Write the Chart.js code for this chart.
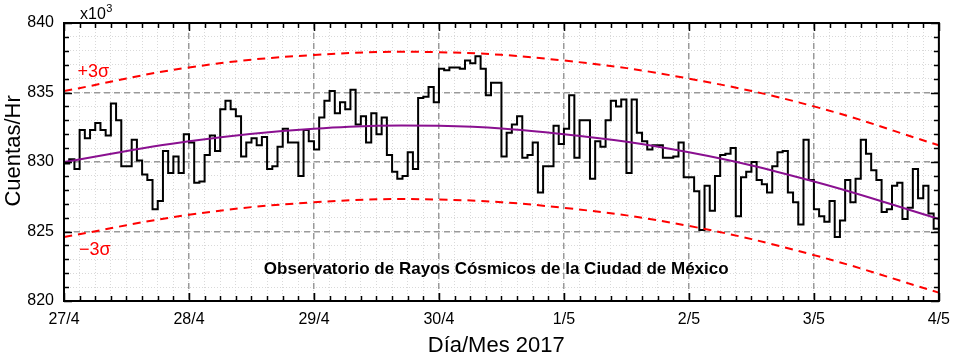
<!DOCTYPE html>
<html><head><meta charset="utf-8">
<script src="https://cdn.jsdelivr.net/npm/chart.js@4/dist/chart.umd.min.js"></script>
<style>html,body{margin:0;padding:0;background:#fff}#wrap{width:959px;height:359px}</style>
</head><body><div id="wrap"><canvas id="c" width="959" height="359"></canvas></div>
<script>
// Tick labels (one per day, every 24 hours)
const dayLabels = ["27/4","28/4","29/4","30/4","1/5","2/5","3/5","4/5"];
// Hourly counts (x10^3 counts/hr), 27/4 00h .. 3/5 23h
const day1 = [829.9,830.2,829.5,832.3,831.7,832.3,832.8,832.3,831.9,834.2,833.0,829.7,829.7,831.6,830.1,829.1,828.7,826.6,827.2,830.8,829.2,830.4,829.2,832.0];
const day2 = [831.4,828.5,828.6,830.5,831.9,830.8,833.8,834.4,833.8,833.3,830.4,831.4,831.7,831.2,831.8,829.5,829.7,831.1,832.4,831.4,831.4,829.0,832.3,831.5];
const day3 = [830.9,833.2,834.4,835.1,833.5,834.3,833.8,835.2,832.7,833.3,831.4,833.5,832.0,833.2,830.5,829.3,828.8,829.0,830.7,829.5,834.6,834.7,835.4,834.3];
const day4 = [836.7,836.6,836.8,836.8,836.7,837.3,837.1,837.6,836.7,834.8,835.7,835.7,830.4,832.1,832.7,833.3,830.3,830.5,831.4,827.8,829.7,829.7,832.6,831.3];
const day5 = [832.4,834.8,830.3,833.0,833.0,828.8,831.5,831.1,833.0,834.4,834.0,834.5,829.2,834.5,832.1,831.5,830.9,831.2,831.2,830.3,830.3,830.4,831.4,828.9];
const day6 = [828.9,827.9,825.1,828.3,826.5,829.0,830.5,830.6,831.0,826.1,828.9,829.3,830.0,828.7,828.4,827.8,829.7,830.7,830.8,827.8,827.1,825.5,831.6,828.7];
const day7 = [826.6,826.1,825.7,827.2,824.6,825.8,828.7,827.1,828.8,831.6,830.6,829.4,828.7,826.4,826.6,828.3,828.5,825.9,826.7,829.5,827.4,828.3,826.3,825.2];
const hourlyCounts = [].concat(day1, day2, day3, day4, day5, day6, day7);
// Fitted curve and +/-3 sigma bands, read at each day boundary
const fitCurve    = [830.0,831.5,832.4,832.6,832.0,830.7,828.6,825.9];
const upper3Sigma = [835.1,836.8,837.7,837.9,837.3,836.0,834.0,831.2];
const lower3Sigma = [824.6,826.2,827.1,827.3,826.7,825.4,823.3,820.6];

const HOURS_PER_DAY = 24;
const totalHours = hourlyCounts.length;
const stepPoints = hourlyCounts.map((v, i) => ({x: i, y: v}));
stepPoints.push({x: totalHours, y: hourlyCounts[totalHours - 1]});
const daily = arr => arr.map((v, i) => ({x: i * HOURS_PER_DAY, y: v}));

const FONT = '"Liberation Sans", Arial, sans-serif';

const framePlugin = {
  id: 'frame',
  afterDatasetsDraw(chart) {
    const {ctx, chartArea: a, scales} = chart;
    const xs = scales.x, ys = scales.y;
    ctx.save();
    ctx.strokeStyle = '#000';
    ctx.lineWidth = 1.5;
    ctx.beginPath();
    for (let v = 820; v <= 840; v += 1) {
      const py = Math.round(ys.getPixelForValue(v)) + 0.5;
      const len = (v % 5 === 0) ? 8 : 5;
      ctx.moveTo(a.left, py); ctx.lineTo(a.left + len, py);
      ctx.moveTo(a.right, py); ctx.lineTo(a.right - len, py);
    }
    for (let h = 0; h <= totalHours; h += 3) {
      const px = Math.round(xs.getPixelForValue(h)) + 0.5;
      const len = (h % 24 === 0) ? 8 : 5;
      ctx.moveTo(px, a.bottom); ctx.lineTo(px, a.bottom - len);
      ctx.moveTo(px, a.top); ctx.lineTo(px, a.top + len);
    }
    ctx.stroke();
    ctx.lineWidth = 2;
    ctx.strokeRect(a.left, a.top, a.right - a.left, a.bottom - a.top);

    // annotations
    ctx.fillStyle = '#ff0000';
    ctx.font = '18px ' + FONT;
    ctx.textAlign = 'left';
    ctx.textBaseline = 'middle';
    ctx.fillText('+3σ', xs.getPixelForValue(2.6), ys.getPixelForValue(836.45));
    ctx.fillText('\u22123σ', xs.getPixelForValue(2.9), ys.getPixelForValue(823.65));

    ctx.fillStyle = '#000';
    ctx.font = 'bold 17px ' + FONT;
    ctx.textAlign = 'center';
    ctx.fillText('Observatorio de Rayos Cósmicos de la Ciudad de México', xs.getPixelForValue(83), ys.getPixelForValue(822.25));

    // multiplier label
    ctx.textAlign = 'left';
    ctx.textBaseline = 'alphabetic';
    ctx.font = '16px ' + FONT;
    ctx.fillText('x10', a.left + 16, a.top - 4);
    const w = ctx.measureText('x10').width;
    ctx.font = '11px ' + FONT;
    ctx.fillText('3', a.left + 16 + w + 0.5, a.top - 11);

    // axis titles
    ctx.font = '22px ' + FONT;
    ctx.textAlign = 'center';
    ctx.textBaseline = 'middle';
    ctx.fillText('Día/Mes 2017', xs.getPixelForValue(83), 346);
    ctx.translate(14, ys.getPixelForValue(830.8));
    ctx.rotate(-Math.PI / 2);
    ctx.fillText('Cuentas/Hr', 0, 0);
    ctx.restore();
  }
};

new Chart(document.getElementById('c'), {
  type: 'line',
  data: {
    datasets: [
      {label: 'fit', data: daily(fitCurve), borderColor: '#8a1090', borderWidth: 2, pointRadius: 0, tension: 0.4, fill: false, order: 0},
      {label: '+3s', data: daily(upper3Sigma), borderColor: '#ff0000', borderWidth: 2, borderDash: [8, 6], pointRadius: 0, tension: 0.4, fill: false, order: 1},
      {label: '-3s', data: daily(lower3Sigma), borderColor: '#ff0000', borderWidth: 2, borderDash: [8, 6], pointRadius: 0, tension: 0.4, fill: false, order: 2},
      {label: 'counts', data: stepPoints, borderColor: '#000', borderWidth: 2, pointRadius: 0, stepped: true, fill: false, order: 3}
    ]
  },
  options: {
    responsive: false,
    devicePixelRatio: 1,
    animation: false,
    layout: {padding: {top: 23, right: 17, left: 0, bottom: 0}},
    plugins: {legend: {display: false}, tooltip: {enabled: false}},
    scales: {
      xMinor: {
        type: 'linear', position: 'bottom', min: 0, max: totalHours,
        ticks: {display: false, stepSize: 3},
        grid: {color: '#d9d9d9', lineWidth: 1, drawTicks: false},
        border: {display: false, dash: [1, 2]},
        afterFit: s => { s.height = 0; }
      },
      yMinor: {
        type: 'linear', position: 'left', min: 820, max: 840,
        ticks: {display: false, stepSize: 1},
        grid: {color: '#d9d9d9', lineWidth: 1, drawTicks: false},
        border: {display: false, dash: [1, 2]},
        afterFit: s => { s.width = 0; }
      },
      x: {
        type: 'linear', position: 'bottom', min: 0, max: totalHours,
        ticks: {stepSize: HOURS_PER_DAY, autoSkip: false, maxRotation: 0, padding: 9, color: '#000',
                font: {size: 16, family: FONT},
                callback: v => dayLabels[v / HOURS_PER_DAY]},
        grid: {color: '#9a9a9a', lineWidth: 1.5, drawTicks: false},
        border: {display: false, dash: [6, 4]},
        afterFit: s => { s.height = 58; }
      },
      y: {
        type: 'linear', position: 'left', min: 820, max: 840,
        ticks: {stepSize: 5, padding: 10, color: '#000', font: {size: 16, family: FONT}},
        grid: {color: '#9a9a9a', lineWidth: 1.5, drawTicks: false},
        border: {display: false, dash: [6, 4]},
        afterFit: s => { s.width = 64; }
      }
    }
  },
  plugins: [framePlugin]
});
</script></body></html>
